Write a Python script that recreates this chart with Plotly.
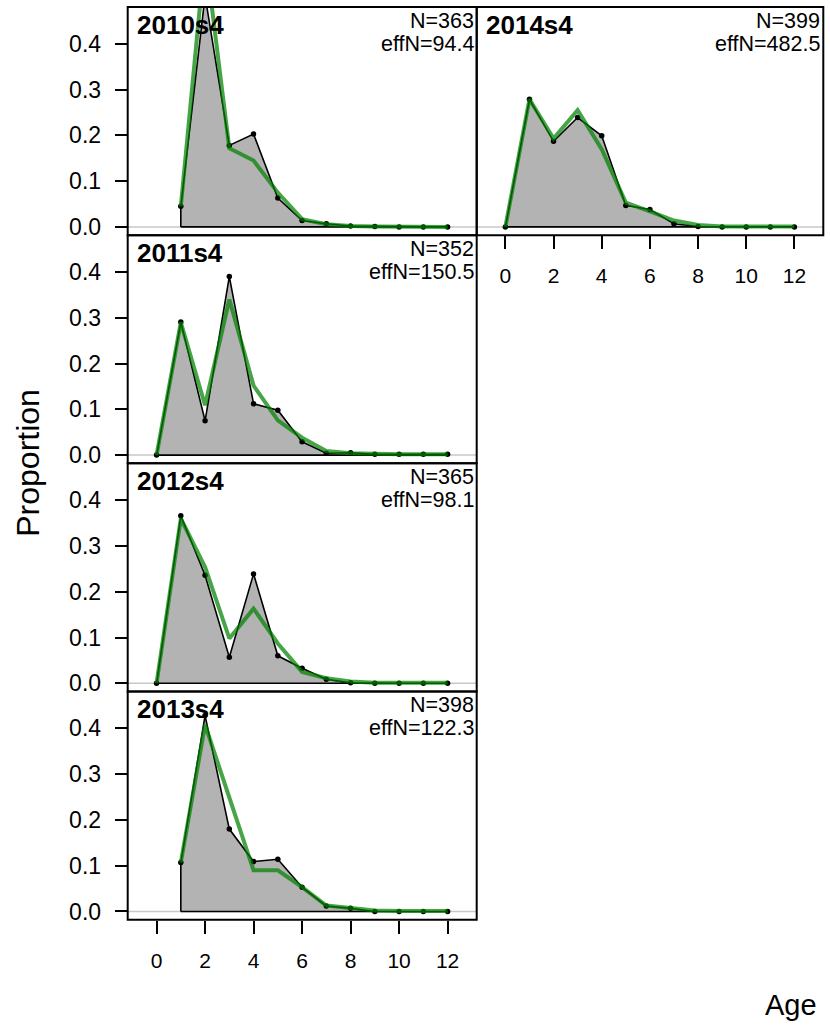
import plotly.graph_objects as go

# ---------------- data ----------------
ages = list(range(13))
panel_names = ["2010s4", "2011s4", "2012s4", "2013s4", "2014s4"]
n_vals = [363, 352, 365, 398, 399]
effn_vals = [94.4, 150.5, 98.1, 122.3, 482.5]

obs_2010 = [None, 0.045, 0.505, 0.178, 0.203, 0.063, 0.014, 0.007, 0.002, 0.001, 0.0, 0.0, 0.0]
exp_2010 = [None, 0.045, 0.600, 0.172, 0.145, 0.075, 0.017, 0.006, 0.002, 0.001, 0.0, 0.0, 0.0]

obs_2011 = [0.0, 0.291, 0.075, 0.390, 0.112, 0.098, 0.029, 0.004, 0.005, 0.002, 0.002, 0.002, 0.002]
exp_2011 = [0.0, 0.290, 0.109, 0.340, 0.152, 0.076, 0.038, 0.009, 0.004, 0.002, 0.002, 0.002, 0.002]

obs_2012 = [0.0, 0.366, 0.236, 0.057, 0.239, 0.060, 0.033, 0.009, 0.001, 0.0, 0.0, 0.0, 0.0]
exp_2012 = [0.0, 0.360, 0.254, 0.098, 0.163, 0.087, 0.025, 0.011, 0.004, 0.001, 0.001, 0.001, 0.001]

obs_2013 = [None, 0.107, 0.428, 0.180, 0.109, 0.114, 0.053, 0.012, 0.007, 0.0, 0.0, 0.0, 0.0]
exp_2013 = [None, 0.107, 0.408, 0.249, 0.090, 0.090, 0.053, 0.013, 0.007, 0.002, 0.001, 0.001, 0.001]

obs_2014 = [0.0, 0.279, 0.187, 0.239, 0.199, 0.047, 0.038, 0.007, 0.001, 0.0, 0.0, 0.0, 0.0]
exp_2014 = [0.0, 0.279, 0.193, 0.255, 0.170, 0.053, 0.034, 0.014, 0.004, 0.001, 0.001, 0.001, 0.001]

observed = [obs_2010, obs_2011, obs_2012, obs_2013, obs_2014]
expected = [exp_2010, exp_2011, exp_2012, exp_2013, exp_2014]

y_tick_vals = [0, 0.1, 0.2, 0.3, 0.4]
y_tick_text = ["0.0", "0.1", "0.2", "0.3", "0.4"]
x_tick_vals = [0, 2, 4, 6, 8, 10, 12]

# ---------------- layout geometry (pixels) ----------------
W, H = 830, 1032
cols = [(127.7, 476.7), (476.7, 823.3)]
top0 = 7.0
rowh = 229.3
placement = [(0, 0), (0, 1), (0, 2), (0, 3), (1, 0)]  # (col, row)
XR = [-1.19, 13.2]
YR = [-0.018, 0.4805]

FONT = "Liberation Sans, Arial, sans-serif"
GREEN = "rgba(0,130,0,0.72)"
GREY = "#B3B3B3"

fig = go.Figure()
layout = dict(
    width=W, height=H,
    margin=dict(l=0, r=0, t=0, b=0),
    paper_bgcolor="white", plot_bgcolor="white",
    showlegend=False,
    font=dict(family=FONT, color="black"),
)
annotations = []
shapes = []

for i, (name, obs, exp) in enumerate(zip(panel_names, observed, expected)):
    c, r = placement[i]
    x0, x1 = cols[c]
    ytop = top0 + r * rowh
    ybot = ytop + rowh
    k = "" if i == 0 else str(i + 1)
    xa, ya = "x" + k, "y" + k

    xs = [a for a, v in zip(ages, obs) if v is not None]
    ys = [v for v in obs if v is not None]
    xe = [a for a, v in zip(ages, exp) if v is not None]
    ye = [v for v in exp if v is not None]

    # grey polygon with black border
    fig.add_trace(go.Scatter(
        x=[xs[0]] + xs + [xs[-1], xs[0]], y=[0] + ys + [0, 0],
        mode="lines", fill="toself", fillcolor=GREY,
        line=dict(color="black", width=1.6), xaxis=xa, yaxis=ya,
        hoverinfo="skip"))
    # observed points
    fig.add_trace(go.Scatter(
        x=xs, y=ys, mode="markers",
        marker=dict(color="black", size=5.5), xaxis=xa, yaxis=ya))
    # expected line
    fig.add_trace(go.Scatter(
        x=xe, y=ye, mode="lines",
        line=dict(color=GREEN, width=4), xaxis=xa, yaxis=ya))

    bottom_axis = (i == 3) or (i == 4)
    xaxis = dict(
        domain=[x0 / W, x1 / W], range=XR, anchor=ya,
        showgrid=False, zeroline=False, showline=False,
        tickvals=x_tick_vals if bottom_axis else [],
        ticks="outside" if bottom_axis else "",
        ticklen=13, tickwidth=2, tickcolor="black",
        showticklabels=bottom_axis,
        tickfont=dict(size=21, family=FONT, color="black"),
        ticklabelstandoff=9,
    )
    left_col = (c == 0)
    yaxis = dict(
        domain=[1 - ybot / H, 1 - ytop / H], range=YR, anchor=xa,
        showgrid=False, zeroline=False, showline=False,
        tickvals=y_tick_vals if left_col else [],
        ticktext=y_tick_text if left_col else [],
        ticks="outside" if left_col else "",
        ticklen=12, tickwidth=2, tickcolor="black",
        showticklabels=left_col,
        tickfont=dict(size=23, family=FONT, color="black"),
        ticklabelstandoff=9,
    )
    layout["xaxis" + k] = xaxis
    layout["yaxis" + k] = yaxis

    # light grey zero line
    shapes.append(dict(type="line", xref=xa, yref=ya, x0=XR[0], x1=XR[1], y0=0, y1=0,
                       line=dict(color="#C8C8C8", width=1.5), layer="below"))
    # panel frame
    shapes.append(dict(type="rect", xref="paper", yref="paper",
                       x0=x0 / W, x1=x1 / W, y0=1 - ybot / H, y1=1 - ytop / H,
                       line=dict(color="black", width=2), fillcolor="rgba(0,0,0,0)",
                       layer="above"))

    # labels
    annotations.append(dict(
        text="<b>%s</b>" % name, xref="paper", yref="paper",
        x=(x0 + 7) / W, y=1 - (ytop + 18) / H, xanchor="left", yanchor="middle",
        showarrow=False, font=dict(size=26, family=FONT, color="black")))
    annotations.append(dict(
        text="N=%d" % n_vals[i], xref="paper", yref="paper",
        x=(x1 - 1) / W, y=1 - (ytop + 14) / H, xanchor="right", yanchor="middle",
        showarrow=False, font=dict(size=21.5, family=FONT, color="black")))
    annotations.append(dict(
        text="effN=%.1f" % effn_vals[i], xref="paper", yref="paper",
        x=(x1 - 1) / W, y=1 - (ytop + 37) / H, xanchor="right", yanchor="middle",
        showarrow=False, font=dict(size=21.5, family=FONT, color="black")))

annotations.append(dict(
    text="Proportion", xref="paper", yref="paper", x=28 / W, y=1 - 465 / H,
    xanchor="center", yanchor="middle", textangle=-90, showarrow=False,
    font=dict(size=32, family=FONT, color="black")))
annotations.append(dict(
    text="Age", xref="paper", yref="paper", x=791 / W, y=1 - 1010 / H,
    xanchor="center", yanchor="middle", showarrow=False,
    font=dict(size=29, family=FONT, color="black")))

layout["annotations"] = annotations
layout["shapes"] = shapes
fig.update_layout(**layout)
fig.write_html("out.html")
